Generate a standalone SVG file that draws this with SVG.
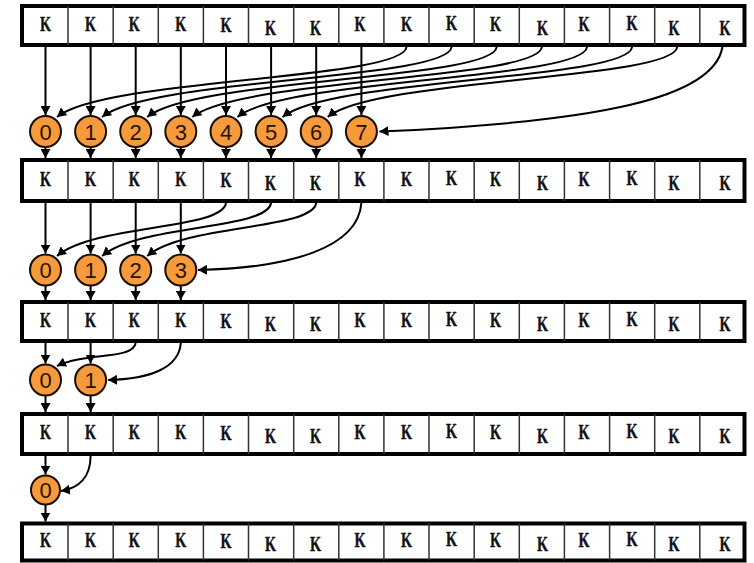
<svg xmlns="http://www.w3.org/2000/svg" width="754" height="563" viewBox="0 0 754 563">
  <style>
    .frame { fill: #ffffff; stroke: #000000; stroke-width: 4; }
    .div { stroke: #333333; stroke-width: 1.5; }
    .k { font-family: "Liberation Serif", "Times New Roman", serif; font-weight: bold; font-size: 20px; fill: #111111; stroke: #111111; stroke-width: 0.4; text-anchor: middle; }
    .node circle { fill: #F59B3C; stroke: #1a0d00; stroke-width: 2; }
    .node text { font-family: "Liberation Sans", Arial, sans-serif; font-size: 22px; fill: #2a1200; text-anchor: middle; }
    .wire { fill: none; stroke: #000000; stroke-width: 2; marker-end: url(#head); }
  </style>
  <defs>
    <marker id="head" viewBox="0 0 9 10" markerWidth="9" markerHeight="10" refX="9" refY="5" orient="auto" markerUnits="userSpaceOnUse">
      <path d="M0,0 L9,5 L0,10 z" fill="#000000"/>
    </marker>
  </defs>
  <rect width="754" height="563" fill="#ffffff"/>

  <!-- array rows -->
  <g id="row1">
    <rect class="frame" x="22" y="6" width="722.5" height="39"/>
    <path class="div" d="M68,6V45M113.2,6V45M158.3,6V45M203.4,6V45M248.5,6V45M293.7,6V45M338.8,6V45M383.9,6V45M429,6V45M474.2,6V45M519.3,6V45M564.4,6V45M609.6,6V45M654.7,6V45M699.8,6V45"/>
    <text class="k" x="45.5" y="30.5" textLength="11" lengthAdjust="spacingAndGlyphs">K</text>
    <text class="k" x="90.6" y="30.5" textLength="11" lengthAdjust="spacingAndGlyphs">K</text>
    <text class="k" x="134.2" y="30.5" textLength="11" lengthAdjust="spacingAndGlyphs">K</text>
    <text class="k" x="180.8" y="30.5" textLength="11" lengthAdjust="spacingAndGlyphs">K</text>
    <text class="k" x="226" y="31.5" textLength="11" lengthAdjust="spacingAndGlyphs">K</text>
    <text class="k" x="270.5" y="34.5" textLength="11" lengthAdjust="spacingAndGlyphs">K</text>
    <text class="k" x="315.5" y="34.5" textLength="11" lengthAdjust="spacingAndGlyphs">K</text>
    <text class="k" x="360" y="30.5" textLength="11" lengthAdjust="spacingAndGlyphs">K</text>
    <text class="k" x="406.5" y="30.5" textLength="11" lengthAdjust="spacingAndGlyphs">K</text>
    <text class="k" x="451.6" y="29.5" textLength="11" lengthAdjust="spacingAndGlyphs">K</text>
    <text class="k" x="495.5" y="30.5" textLength="11" lengthAdjust="spacingAndGlyphs">K</text>
    <text class="k" x="542.5" y="34.5" textLength="11" lengthAdjust="spacingAndGlyphs">K</text>
    <text class="k" x="584" y="30.5" textLength="11" lengthAdjust="spacingAndGlyphs">K</text>
    <text class="k" x="632" y="29.5" textLength="11" lengthAdjust="spacingAndGlyphs">K</text>
    <text class="k" x="674" y="34.5" textLength="11" lengthAdjust="spacingAndGlyphs">K</text>
    <text class="k" x="725" y="34.5" textLength="11" lengthAdjust="spacingAndGlyphs">K</text>
  </g>

  <g id="row2">
    <rect class="frame" x="22" y="160" width="722.5" height="41"/>
    <path class="div" d="M68,160V201M113.2,160V201M158.3,160V201M203.4,160V201M248.5,160V201M293.7,160V201M338.8,160V201M383.9,160V201M429,160V201M474.2,160V201M519.3,160V201M564.4,160V201M609.6,160V201M654.7,160V201M699.8,160V201"/>
    <text class="k" x="45.5" y="185.5" textLength="11" lengthAdjust="spacingAndGlyphs">K</text>
    <text class="k" x="90.6" y="185.5" textLength="11" lengthAdjust="spacingAndGlyphs">K</text>
    <text class="k" x="134.2" y="185.5" textLength="11" lengthAdjust="spacingAndGlyphs">K</text>
    <text class="k" x="180.8" y="185.5" textLength="11" lengthAdjust="spacingAndGlyphs">K</text>
    <text class="k" x="226" y="186.5" textLength="11" lengthAdjust="spacingAndGlyphs">K</text>
    <text class="k" x="270.5" y="189.5" textLength="11" lengthAdjust="spacingAndGlyphs">K</text>
    <text class="k" x="315.5" y="189.5" textLength="11" lengthAdjust="spacingAndGlyphs">K</text>
    <text class="k" x="360" y="185.5" textLength="11" lengthAdjust="spacingAndGlyphs">K</text>
    <text class="k" x="406.5" y="185.5" textLength="11" lengthAdjust="spacingAndGlyphs">K</text>
    <text class="k" x="451.6" y="184.5" textLength="11" lengthAdjust="spacingAndGlyphs">K</text>
    <text class="k" x="495.5" y="185.5" textLength="11" lengthAdjust="spacingAndGlyphs">K</text>
    <text class="k" x="542.5" y="189.5" textLength="11" lengthAdjust="spacingAndGlyphs">K</text>
    <text class="k" x="584" y="185.5" textLength="11" lengthAdjust="spacingAndGlyphs">K</text>
    <text class="k" x="632" y="184.5" textLength="11" lengthAdjust="spacingAndGlyphs">K</text>
    <text class="k" x="674" y="189.5" textLength="11" lengthAdjust="spacingAndGlyphs">K</text>
    <text class="k" x="725" y="189.5" textLength="11" lengthAdjust="spacingAndGlyphs">K</text>
  </g>

  <g id="row3">
    <rect class="frame" x="22" y="302" width="722.5" height="39"/>
    <path class="div" d="M68,302V341M113.2,302V341M158.3,302V341M203.4,302V341M248.5,302V341M293.7,302V341M338.8,302V341M383.9,302V341M429,302V341M474.2,302V341M519.3,302V341M564.4,302V341M609.6,302V341M654.7,302V341M699.8,302V341"/>
    <text class="k" x="45.5" y="326.5" textLength="11" lengthAdjust="spacingAndGlyphs">K</text>
    <text class="k" x="90.6" y="326.5" textLength="11" lengthAdjust="spacingAndGlyphs">K</text>
    <text class="k" x="134.2" y="326.5" textLength="11" lengthAdjust="spacingAndGlyphs">K</text>
    <text class="k" x="180.8" y="326.5" textLength="11" lengthAdjust="spacingAndGlyphs">K</text>
    <text class="k" x="226" y="327.5" textLength="11" lengthAdjust="spacingAndGlyphs">K</text>
    <text class="k" x="270.5" y="330.5" textLength="11" lengthAdjust="spacingAndGlyphs">K</text>
    <text class="k" x="315.5" y="330.5" textLength="11" lengthAdjust="spacingAndGlyphs">K</text>
    <text class="k" x="360" y="326.5" textLength="11" lengthAdjust="spacingAndGlyphs">K</text>
    <text class="k" x="406.5" y="326.5" textLength="11" lengthAdjust="spacingAndGlyphs">K</text>
    <text class="k" x="451.6" y="325.5" textLength="11" lengthAdjust="spacingAndGlyphs">K</text>
    <text class="k" x="495.5" y="326.5" textLength="11" lengthAdjust="spacingAndGlyphs">K</text>
    <text class="k" x="542.5" y="330.5" textLength="11" lengthAdjust="spacingAndGlyphs">K</text>
    <text class="k" x="584" y="326.5" textLength="11" lengthAdjust="spacingAndGlyphs">K</text>
    <text class="k" x="632" y="325.5" textLength="11" lengthAdjust="spacingAndGlyphs">K</text>
    <text class="k" x="674" y="330.5" textLength="11" lengthAdjust="spacingAndGlyphs">K</text>
    <text class="k" x="725" y="330.5" textLength="11" lengthAdjust="spacingAndGlyphs">K</text>
  </g>

  <g id="row4">
    <rect class="frame" x="22" y="414" width="722.5" height="40"/>
    <path class="div" d="M68,414V454M113.2,414V454M158.3,414V454M203.4,414V454M248.5,414V454M293.7,414V454M338.8,414V454M383.9,414V454M429,414V454M474.2,414V454M519.3,414V454M564.4,414V454M609.6,414V454M654.7,414V454M699.8,414V454"/>
    <text class="k" x="45.5" y="439" textLength="11" lengthAdjust="spacingAndGlyphs">K</text>
    <text class="k" x="90.6" y="439" textLength="11" lengthAdjust="spacingAndGlyphs">K</text>
    <text class="k" x="134.2" y="439" textLength="11" lengthAdjust="spacingAndGlyphs">K</text>
    <text class="k" x="180.8" y="439" textLength="11" lengthAdjust="spacingAndGlyphs">K</text>
    <text class="k" x="226" y="440" textLength="11" lengthAdjust="spacingAndGlyphs">K</text>
    <text class="k" x="270.5" y="443" textLength="11" lengthAdjust="spacingAndGlyphs">K</text>
    <text class="k" x="315.5" y="443" textLength="11" lengthAdjust="spacingAndGlyphs">K</text>
    <text class="k" x="360" y="439" textLength="11" lengthAdjust="spacingAndGlyphs">K</text>
    <text class="k" x="406.5" y="439" textLength="11" lengthAdjust="spacingAndGlyphs">K</text>
    <text class="k" x="451.6" y="438" textLength="11" lengthAdjust="spacingAndGlyphs">K</text>
    <text class="k" x="495.5" y="439" textLength="11" lengthAdjust="spacingAndGlyphs">K</text>
    <text class="k" x="542.5" y="443" textLength="11" lengthAdjust="spacingAndGlyphs">K</text>
    <text class="k" x="584" y="439" textLength="11" lengthAdjust="spacingAndGlyphs">K</text>
    <text class="k" x="632" y="438" textLength="11" lengthAdjust="spacingAndGlyphs">K</text>
    <text class="k" x="674" y="443" textLength="11" lengthAdjust="spacingAndGlyphs">K</text>
    <text class="k" x="725" y="443" textLength="11" lengthAdjust="spacingAndGlyphs">K</text>
  </g>

  <g id="row5">
    <rect class="frame" x="22" y="523.5" width="722.5" height="37"/>
    <path class="div" d="M68,523.5V560.5M113.2,523.5V560.5M158.3,523.5V560.5M203.4,523.5V560.5M248.5,523.5V560.5M293.7,523.5V560.5M338.8,523.5V560.5M383.9,523.5V560.5M429,523.5V560.5M474.2,523.5V560.5M519.3,523.5V560.5M564.4,523.5V560.5M609.6,523.5V560.5M654.7,523.5V560.5M699.8,523.5V560.5"/>
    <text class="k" x="45.5" y="547" textLength="11" lengthAdjust="spacingAndGlyphs">K</text>
    <text class="k" x="90.6" y="547" textLength="11" lengthAdjust="spacingAndGlyphs">K</text>
    <text class="k" x="134.2" y="547" textLength="11" lengthAdjust="spacingAndGlyphs">K</text>
    <text class="k" x="180.8" y="547" textLength="11" lengthAdjust="spacingAndGlyphs">K</text>
    <text class="k" x="226" y="548" textLength="11" lengthAdjust="spacingAndGlyphs">K</text>
    <text class="k" x="270.5" y="551" textLength="11" lengthAdjust="spacingAndGlyphs">K</text>
    <text class="k" x="315.5" y="551" textLength="11" lengthAdjust="spacingAndGlyphs">K</text>
    <text class="k" x="360" y="547" textLength="11" lengthAdjust="spacingAndGlyphs">K</text>
    <text class="k" x="406.5" y="547" textLength="11" lengthAdjust="spacingAndGlyphs">K</text>
    <text class="k" x="451.6" y="546" textLength="11" lengthAdjust="spacingAndGlyphs">K</text>
    <text class="k" x="495.5" y="547" textLength="11" lengthAdjust="spacingAndGlyphs">K</text>
    <text class="k" x="542.5" y="551" textLength="11" lengthAdjust="spacingAndGlyphs">K</text>
    <text class="k" x="584" y="547" textLength="11" lengthAdjust="spacingAndGlyphs">K</text>
    <text class="k" x="632" y="546" textLength="11" lengthAdjust="spacingAndGlyphs">K</text>
    <text class="k" x="674" y="551" textLength="11" lengthAdjust="spacingAndGlyphs">K</text>
    <text class="k" x="725" y="551" textLength="11" lengthAdjust="spacingAndGlyphs">K</text>
  </g>

  <!-- connectors -->
  <g id="connectors">
    <!-- stage 1: straight drops -->
    <path class="wire" d="M45.5,47V115"/>
    <path class="wire" d="M90.6,47V115"/>
    <path class="wire" d="M135.7,47V115"/>
    <path class="wire" d="M180.8,47V115"/>
    <path class="wire" d="M226,47V115"/>
    <path class="wire" d="M271.1,47V115"/>
    <path class="wire" d="M316.2,47V115"/>
    <path class="wire" d="M361.4,47V115"/>
    <!-- stage 1: curved feeds from the upper half -->
    <path class="wire" d="M406.5,47 C402.5,80 105.5,78 57,117"/>
    <path class="wire" d="M451.6,47 C447.6,80 150.6,78 102.1,117"/>
    <path class="wire" d="M496.7,47 C492.7,80 195.7,78 147.2,117"/>
    <path class="wire" d="M541.9,47 C537.9,80 240.8,78 192.3,117"/>
    <path class="wire" d="M587,47 C583,80 286,78 237.5,117"/>
    <path class="wire" d="M632.1,47 C628.1,80 331.1,78 282.6,117"/>
    <path class="wire" d="M677.2,47 C673.2,80 376.2,78 327.7,117"/>
    <path class="wire" d="M722.4,47 C714,98 600,122 379.5,131.5"/>
    <!-- stage 1: results down -->
    <path class="wire" d="M45.5,147V158"/>
    <path class="wire" d="M90.6,147V158"/>
    <path class="wire" d="M135.7,147V158"/>
    <path class="wire" d="M180.8,147V158"/>
    <path class="wire" d="M226,147V158"/>
    <path class="wire" d="M271.1,147V158"/>
    <path class="wire" d="M316.2,147V158"/>
    <path class="wire" d="M361.4,147V158"/>

    <!-- stage 2 -->
    <path class="wire" d="M45.5,203V253.5"/>
    <path class="wire" d="M90.6,203V253.5"/>
    <path class="wire" d="M135.7,203V253.5"/>
    <path class="wire" d="M180.8,203V253.5"/>
    <path class="wire" d="M226,203 C222,230 95.5,224 57,256"/>
    <path class="wire" d="M271.1,203 C267.1,230 140.6,224 102.1,256"/>
    <path class="wire" d="M316.2,203 C312.2,230 185.7,224 147.2,256"/>
    <path class="wire" d="M361.4,203 C358,248 290,268 198,270"/>
    <path class="wire" d="M45.5,286V300"/>
    <path class="wire" d="M90.6,286V300"/>
    <path class="wire" d="M135.7,286V300"/>
    <path class="wire" d="M180.8,286V300"/>

    <!-- stage 3 -->
    <path class="wire" d="M45.5,343V363.5"/>
    <path class="wire" d="M90.6,343V363.5"/>
    <path class="wire" d="M135.7,343 C133,360 85,352 57,366"/>
    <path class="wire" d="M180.8,343 C179,368 150,379 108,380"/>
    <path class="wire" d="M45.5,396V412"/>
    <path class="wire" d="M90.6,396V412"/>

    <!-- stage 4 -->
    <path class="wire" d="M45.5,456V474.5"/>
    <path class="wire" d="M90.6,456 C90.5,476 80,488 61,491"/>
    <path class="wire" d="M45.5,505V521.5"/>
  </g>

  <!-- adder nodes -->
  <g id="s1n0" class="node"><circle cx="45.5" cy="131.5" r="15.5"/><text x="45.5" y="139.5">0</text></g>
  <g id="s1n1" class="node"><circle cx="90.6" cy="131.5" r="15.5"/><text x="90.6" y="139.5">1</text></g>
  <g id="s1n2" class="node"><circle cx="135.7" cy="131.5" r="15.5"/><text x="135.7" y="139.5">2</text></g>
  <g id="s1n3" class="node"><circle cx="180.8" cy="131.5" r="15.5"/><text x="180.8" y="139.5">3</text></g>
  <g id="s1n4" class="node"><circle cx="226" cy="131.5" r="15.5"/><text x="226" y="139.5">4</text></g>
  <g id="s1n5" class="node"><circle cx="271.1" cy="131.5" r="15.5"/><text x="271.1" y="139.5">5</text></g>
  <g id="s1n6" class="node"><circle cx="316.2" cy="131.5" r="15.5"/><text x="316.2" y="139.5">6</text></g>
  <g id="s1n7" class="node"><circle cx="361.4" cy="131.5" r="15.5"/><text x="361.4" y="139.5">7</text></g>

  <g id="s2n0" class="node"><circle cx="45.5" cy="270" r="15.5"/><text x="45.5" y="278">0</text></g>
  <g id="s2n1" class="node"><circle cx="90.6" cy="270" r="15.5"/><text x="90.6" y="278">1</text></g>
  <g id="s2n2" class="node"><circle cx="135.7" cy="270" r="15.5"/><text x="135.7" y="278">2</text></g>
  <g id="s2n3" class="node"><circle cx="180.8" cy="270" r="15.5"/><text x="180.8" y="278">3</text></g>

  <g id="s3n0" class="node"><circle cx="45.5" cy="380" r="15.5"/><text x="45.5" y="388">0</text></g>
  <g id="s3n1" class="node"><circle cx="90.6" cy="380" r="15.5"/><text x="90.6" y="388">1</text></g>

  <g id="s4n0" class="node"><circle cx="45.5" cy="490" r="14.5"/><text x="45.5" y="498">0</text></g>
</svg>
